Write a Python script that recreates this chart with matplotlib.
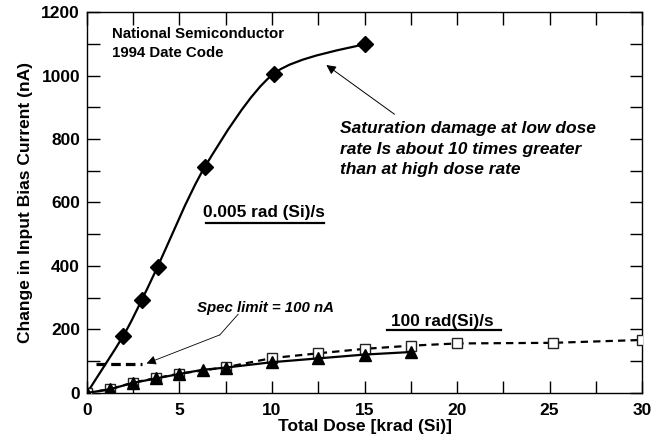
import numpy as np
import matplotlib
matplotlib.use("Agg")
import matplotlib.pyplot as plt
from matplotlib.path import Path
from matplotlib.patches import PathPatch

plt.rcParams['font.family'] = ['Liberation Sans', 'DejaVu Sans']

# ---- data ----
low_dose = [0.0, 1.96, 2.95, 3.82, 6.37, 10.1, 15.05]
low_ibias = [0, 180, 292, 398, 712, 1006, 1100]

high_tri_dose = [0.0, 1.25, 2.5, 3.75, 5.0, 6.25, 7.5, 10.0, 12.5, 15.0, 17.5]
high_tri_ibias = [0, 12, 32, 46, 60, 73, 80, 97, 109, 121, 129]

high_sq_dose = [0.0, 1.25, 2.5, 3.75, 5.0, 7.5, 10.0, 12.5, 15.0, 17.5, 20.0, 25.2, 30.0]
high_sq_ibias = [0, 12, 33, 47, 61, 81, 110, 125, 139, 149, 156, 158, 167]

spec_limit = 92
spec_x = [0.5, 2.95]

x_ticks = [0, 5, 10, 15, 20, 25, 30]
y_ticks = [0, 200, 400, 600, 800, 1000, 1200]

fig = plt.figure(figsize=(6.57, 4.43), dpi=100)
ax = fig.add_axes([0.1324, 0.1129, 0.8448, 0.86])

# smooth curve (Catmull-Rom -> Bezier) through low-dose-rate points
P = np.column_stack([low_dose, low_ibias]).astype(float)
verts = [P[0]]
codes = [Path.MOVETO]
n = len(P)
for i in range(n - 1):
    p0 = P[i - 1] if i > 0 else P[i]
    p1 = P[i]
    p2 = P[i + 1]
    p3 = P[i + 2] if i + 2 < n else P[i + 1]
    c1 = p1 + (p2 - p0) / 7.0
    c2 = p2 - (p3 - p1) / 7.0
    verts += [c1, c2, p2]
    codes += [Path.CURVE4] * 3
ax.add_patch(PathPatch(Path(verts, codes), fill=False, lw=1.6, ec='black', zorder=3))
ax.plot(low_dose[1:], low_ibias[1:], ls='none', marker='D', ms=8, color='black', zorder=4)

# high dose rate
ax.plot(high_sq_dose, high_sq_ibias, ls=(0, (3.3, 2.3)), lw=1.6, color='black',
        marker='s', ms=7.5, mfc='white', mec='#222222', mew=1.0, zorder=4)
ax.plot(high_tri_dose, high_tri_ibias, ls='-', lw=1.6, color='black',
        marker='^', ms=8, zorder=5)

# spec limit line
ax.hlines(spec_limit, spec_x[0], spec_x[1], colors='black', lw=2.3,
          linestyles=(0, (3.0, 1.6)), zorder=3)

ax.set_xlim(0, 30)
ax.set_ylim(0, 1200)
ax.set_xticks(x_ticks)
ax.set_yticks(y_ticks)
ax.set_xticks(np.arange(0, 30.1, 2.5), minor=True)
ax.set_yticks(np.arange(0, 1201, 100), minor=True)
ax.tick_params(which='both', direction='in', top=True, right=True, width=1.0)
ax.tick_params(which='major', length=9)
ax.tick_params(which='minor', length=9)
ax.tick_params(axis='both', labelsize=12.5)
ax.tick_params(axis='x', pad=7)
ax.tick_params(axis='y', pad=5)
for lab in ax.get_xticklabels() + ax.get_yticklabels():
    lab.set_fontweight('bold')
for s in ax.spines.values():
    s.set_linewidth(1.0)

ax.set_xlabel('Total Dose [krad (Si)]', fontsize=12.5, fontweight='bold', labelpad=1)
ax.set_ylabel('Change in Input Bias Current (nA)', fontsize=12.5, fontweight='bold', labelpad=6)

# annotations
ax.text(1.33, 1117, 'National Semiconductor', fontsize=10.8, fontweight='bold', va='baseline')
ax.text(1.33, 1058, '1994 Date Code', fontsize=10.8, fontweight='bold', va='baseline')

sat_lines = ['Saturation damage at low dose', 'rate Is about 10 times greater', 'than at high dose rate']
for yv, t in zip([818, 753, 690], sat_lines):
    ax.text(13.65, yv, t, fontsize=12.5, fontweight='bold', style='italic', va='baseline', ha='left')
ax.annotate('', xy=(12.94, 1033), xytext=(16.62, 878),
            arrowprops=dict(arrowstyle='-|>', lw=0.7, color='black', mutation_scale=14,
                            shrinkA=0, shrinkB=0))

ax.text(6.27, 555, '0.005 rad (Si)/s', fontsize=12.4, fontweight='bold', va='baseline')
ax.plot([6.42, 12.79], [534, 534], color='black', lw=1.6, zorder=3)
ax.text(16.44, 211, '100 rad(Si)/s', fontsize=12.4, fontweight='bold', va='baseline')
ax.plot([16.24, 22.38], [198, 198], color='black', lw=1.6, zorder=3)

ax.text(5.94, 256, 'Spec limit = 100 nA', fontsize=10.8, fontweight='bold', style='italic', va='baseline')
ax.plot([8.17, 7.18], [248, 183], color='black', lw=0.6)
ax.annotate('', xy=(3.22, 93), xytext=(7.18, 183),
            arrowprops=dict(arrowstyle='-|>', lw=0.6, color='black', mutation_scale=14,
                            shrinkA=0, shrinkB=0))

fig.savefig('out.png', dpi=100)
